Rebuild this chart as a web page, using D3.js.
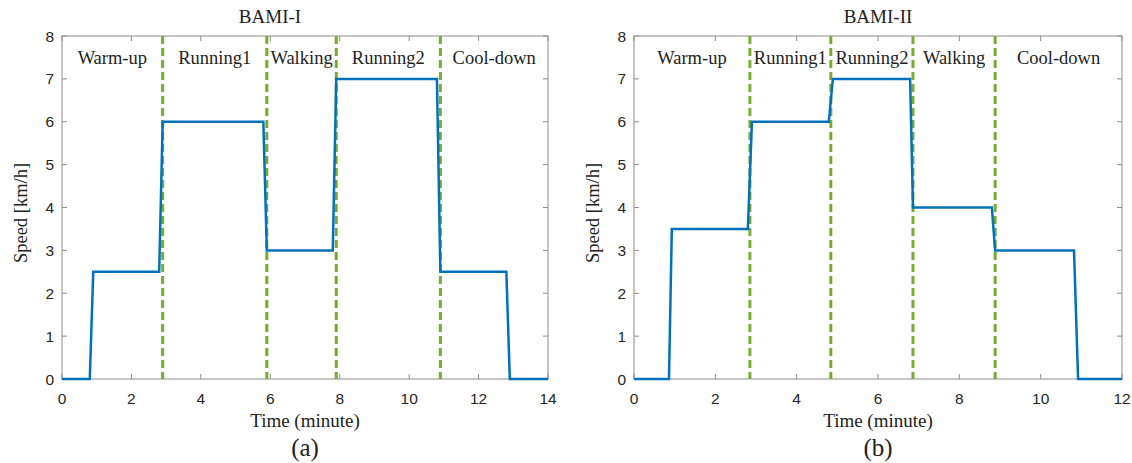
<!DOCTYPE html>
<html>
<head>
<meta charset="utf-8">
<script src="https://cdn.jsdelivr.net/npm/d3@7"></script>
<style>
  body { margin: 0; background: #fff; }
  svg text { fill: #222; }
</style>
</head>
<body>
<div id="chart"></div>
<script>
// BAMI-I profile (time in minutes, speed in km/h)
var timeA = [0, 0.8, 0.9, 2.8, 2.9, 5.8, 5.9, 7.8, 7.9, 10.8, 10.9, 12.8, 12.9, 14];
var speedA = [0, 0, 2.5, 2.5, 6, 6, 3, 3, 7, 7, 2.5, 2.5, 0, 0];
var phaseBreaksA = [2.9, 5.9, 7.9, 10.9];
var phaseNamesA = ["Warm-up", "Running1", "Walking", "Running2", "Cool-down"];

// BAMI-II profile
var timeB = [0, 0.86, 0.93, 2.8, 2.9, 4.79, 4.89, 6.79, 6.86, 8.8, 8.88, 10.82, 10.92, 12];
var speedB = [0, 0, 3.5, 3.5, 6, 6, 7, 7, 4, 4, 3, 3, 0, 0];
var phaseBreaksB = [2.85, 4.84, 6.86, 8.88];
var phaseNamesB = ["Warm-up", "Running1", "Running2", "Walking", "Cool-down"];

var yTicks = [0, 1, 2, 3, 4, 5, 6, 7, 8];

var width = 1132, height = 463;
var svg = d3.select("#chart").append("svg")
  .attr("width", width)
  .attr("height", height);

var serif = "'Liberation Serif', 'Times New Roman', serif";
var sans = "'Liberation Sans', Arial, sans-serif";

function drawPanel(opts) {
  var x = d3.scaleLinear().domain([0, opts.xMax]).range([opts.left, opts.right]);
  var y = d3.scaleLinear().domain([0, 8]).range([379, 36]);
  var g = svg.append("g");

  // box
  g.append("rect")
    .attr("x", x(0)).attr("y", y(8))
    .attr("width", x(opts.xMax) - x(0)).attr("height", y(0) - y(8))
    .attr("fill", "none").attr("stroke", "#8c8c8c").attr("stroke-width", 1);

  var tickLen = 5;
  // x ticks (bottom + top, inward)
  g.selectAll(".xt").data(opts.xTicks).enter().append("line")
    .attr("x1", d => x(d)).attr("x2", d => x(d))
    .attr("y1", y(0)).attr("y2", y(0) - tickLen)
    .attr("stroke", "#8c8c8c");
  g.selectAll(".xtt").data(opts.xTicks).enter().append("line")
    .attr("x1", d => x(d)).attr("x2", d => x(d))
    .attr("y1", y(8)).attr("y2", y(8) + tickLen)
    .attr("stroke", "#8c8c8c");
  // y ticks (left + right, inward)
  g.selectAll(".yt").data(yTicks).enter().append("line")
    .attr("x1", x(0)).attr("x2", x(0) + tickLen)
    .attr("y1", d => y(d)).attr("y2", d => y(d))
    .attr("stroke", "#8c8c8c");
  g.selectAll(".ytr").data(yTicks).enter().append("line")
    .attr("x1", x(opts.xMax)).attr("x2", x(opts.xMax) - tickLen)
    .attr("y1", d => y(d)).attr("y2", d => y(d))
    .attr("stroke", "#8c8c8c");

  // tick labels
  g.selectAll(".xl").data(opts.xTicks).enter().append("text")
    .attr("x", d => x(d)).attr("y", 404)
    .attr("text-anchor", "middle")
    .style("font-family", sans).style("font-size", "15.5px")
    .style("fill", "#262626")
    .text(d => d);
  g.selectAll(".yl").data(yTicks).enter().append("text")
    .attr("x", x(0) - 8).attr("y", d => y(d) + 5.5)
    .attr("text-anchor", "end")
    .style("font-family", sans).style("font-size", "15.5px")
    .style("fill", "#262626")
    .text(d => d);

  // phase separators
  g.selectAll(".sep").data(opts.breaks).enter().append("line")
    .attr("x1", d => x(d)).attr("x2", d => x(d))
    .attr("y1", y(8)).attr("y2", y(0))
    .attr("stroke", "#77ac30").attr("stroke-width", 3)
    .attr("stroke-dasharray", "8,4");

  // speed profile
  var line = d3.line().x(d => x(d[0])).y(d => y(d[1]));
  g.append("path")
    .datum(opts.time.map((t, i) => [t, opts.speed[i]]))
    .attr("d", line)
    .attr("fill", "none")
    .attr("stroke", "#0072bd")
    .attr("stroke-width", 2.5);

  // phase names centered in each segment
  var edges = [0].concat(opts.breaks, [opts.xMax]);
  g.selectAll(".pn").data(opts.names).enter().append("text")
    .attr("x", (d, i) => (x(edges[i]) + x(edges[i + 1])) / 2)
    .attr("y", 64)
    .attr("text-anchor", "middle")
    .style("font-family", serif).style("font-size", "18.5px")
    .text(d => d);

  var cx = (x(0) + x(opts.xMax)) / 2;
  g.append("text")
    .attr("x", opts.titleX || cx).attr("y", 23)
    .attr("text-anchor", "middle")
    .style("font-family", serif).style("font-size", "19px")
    .text(opts.title);
  g.append("text")
    .attr("x", cx).attr("y", 427)
    .attr("text-anchor", "middle")
    .style("font-family", serif).style("font-size", "19px")
    .text("Time (minute)");
  g.append("text")
    .attr("x", cx).attr("y", 456)
    .attr("text-anchor", "middle")
    .style("font-family", serif).style("font-size", "25px")
    .text(opts.tag);
  g.append("text")
    .attr("transform", "translate(" + (opts.left - 35) + "," + 213 + ") rotate(-90)")
    .attr("text-anchor", "middle")
    .style("font-family", serif).style("font-size", "18.5px")
    .text("Speed [km/h]");
}

drawPanel({
  left: 62, right: 548, xMax: 14, xTicks: [0, 2, 4, 6, 8, 10, 12, 14],
  time: timeA, speed: speedA, breaks: phaseBreaksA, names: phaseNamesA,
  title: "BAMI-I", titleX: 270, tag: "(a)"
});
drawPanel({
  left: 634, right: 1122, xMax: 12, xTicks: [0, 2, 4, 6, 8, 10, 12],
  time: timeB, speed: speedB, breaks: phaseBreaksB, names: phaseNamesB,
  title: "BAMI-II", tag: "(b)"
});
</script>
</body>
</html>
